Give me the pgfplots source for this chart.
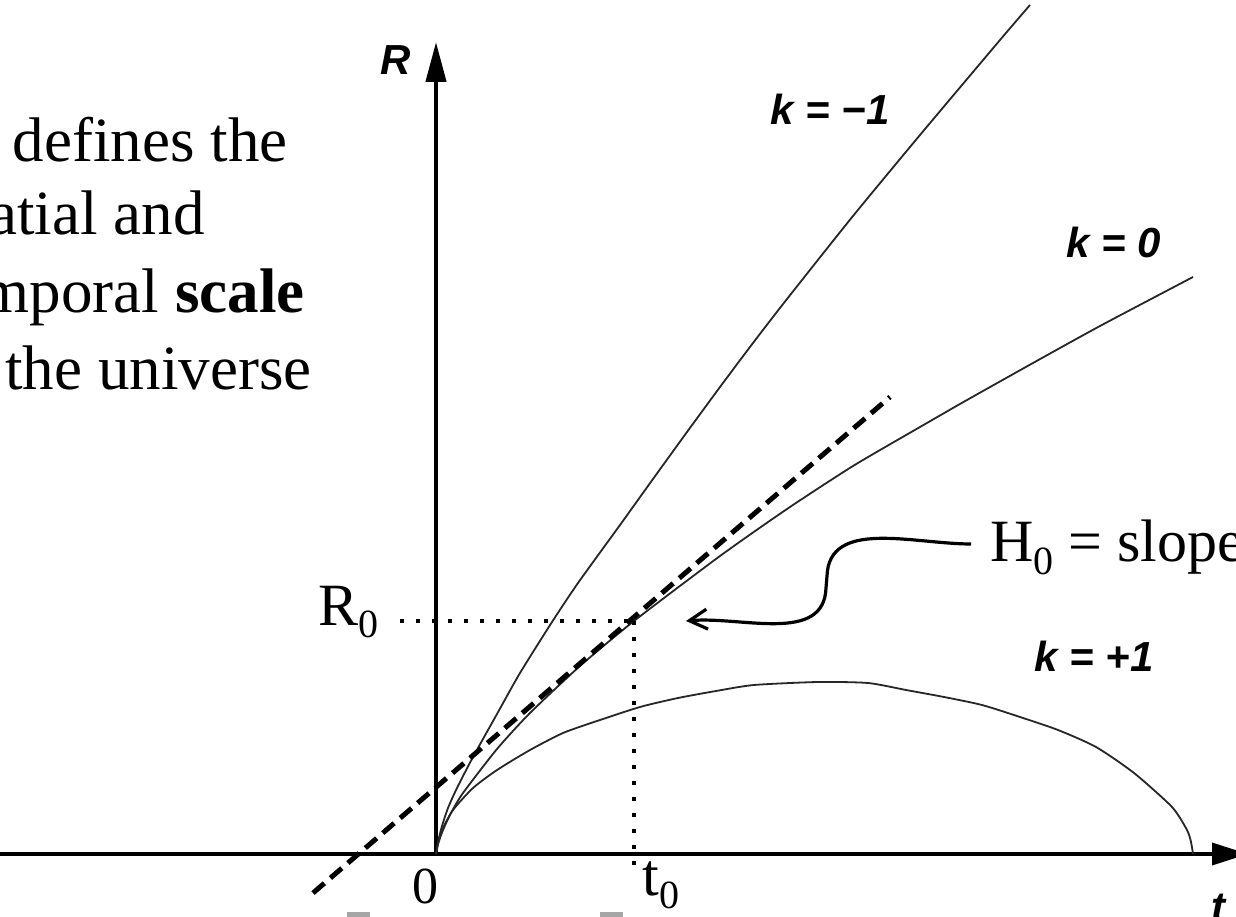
\documentclass[border=0pt]{standalone}
\usepackage{fontspec}
\setmainfont{Liberation Serif}
\setsansfont{Liberation Sans}
\usepackage{pgfplots}
\pgfplotsset{compat=1.18}
\usetikzlibrary{arrows.meta}

\newcommand{\sub}[1]{\raisebox{-6.5pt}{\fontsize{20}{20}\selectfont #1}}
\newcommand{\klab}{\sffamily\bfseries\itshape\fontsize{21}{21}\selectfont}

\begin{document}
\begin{tikzpicture}
\begin{axis}[
  scale only axis, width=618pt, height=458pt,
  xmin=-436, xmax=800, ymin=-62, ymax=854,
  axis lines=none, clip=false]

\coordinate (SW) at (axis cs:-436,-62);
\coordinate (NE) at (axis cs:800,854);

% axes
\draw[line width=2.4pt] (axis cs:-436,0) -- (axis cs:373,0);
\draw[line width=1.8pt, -{Triangle[length=18pt,width=11pt]}] (axis cs:370,0) -- (axis cs:812,0);
\draw[line width=2.2pt, -{Triangle[length=20pt,width=10pt]}] (axis cs:0,0) -- (axis cs:0,812);

% k = -1
\addplot[black!85, line width=0.9pt, smooth, tension=0.4] coordinates {
(0,0) (2,12) (6,28) (12,46) (21,66) (37,97) (61,140) (84,181) (116,232)
(142,271) (184,329) (217,375) (251,422) (284,467) (317,511) (351,555)
(417,638) (484,719) (564,814) (594,849)};

% k = 0
\addplot[black!85, line width=0.9pt, smooth, tension=0.4] coordinates {
(0,0) (2,10) (7,24) (15,41) (27,61) (61,105) (94,141) (144,188) (198,233)
(284,298) (351,345) (417,388) (484,427) (531,454) (597,491) (664,528)
(757,577)};

% k = +1
\addplot[black!85, line width=0.9pt, smooth, tension=0.4] coordinates {
(0,0) (2,10) (6,24) (17,44) (37,66) (61,84) (94,104) (127,121) (161,133)
(204,147) (242,156) (280,163) (318,169) (382,172) (432,171) (470,164)
(508,157) (546,149) (584,137) (622,124) (660,107) (698,81) (736,47)
(751,24) (755,12) (757,0)};

% tangent line (slope H0)
\addplot[black, line width=2.5pt, dash pattern=on 7.5pt off 4pt] coordinates {
(-123,-39) (454,457)};

% dotted guides to R0 and t0
\addplot[black, line width=2pt, dash pattern=on 2pt off 6pt] coordinates {
(-36,233) (198,233)};
\addplot[black, line width=2pt, dash pattern=on 2pt off 6pt] coordinates {
(198,233) (198,-14)};

% curved arrow from label
\draw[line width=1.6pt, -{Straight Barb[length=9pt,width=10pt]}]
  (axis cs:535,310) to[out=180,in=88] (axis cs:391,278) -- (axis cs:390,266)
  to[out=-92,in=5] (axis cs:250,233);

% labels
\node[font=\klab] at (axis cs:-40,794) {R};
\node[font=\klab] at (axis cs:782,-54) {t};
\node[font=\klab] at (axis cs:394,745) {k = −1};
\node[font=\klab] at (axis cs:678,612) {k = 0};
\node[font=\klab] at (axis cs:658,198) {k = +1};

\node[anchor=base west, inner sep=0pt, font=\fontsize{30}{30}\selectfont] at (axis cs:-118,229) {R\sub{0}};
\node[anchor=base west, inner sep=0pt, font=\fontsize{30}{30}\selectfont] at (axis cs:206,-41) {t\sub{0}};
\node[anchor=base, inner sep=0pt, font=\fontsize{26}{26}\selectfont] at (axis cs:-11,-49) {0};
\node[anchor=base west, inner sep=0pt, font=\fontsize{30}{30}\selectfont] at (axis cs:554,292) {H\sub{0} = slope};

\node[anchor=base east, inner sep=0pt, font=\fontsize{31.5}{31.5}\selectfont] at (axis cs:-148,692) {R defines the};
\node[anchor=base east, inner sep=0pt, font=\fontsize{31.5}{31.5}\selectfont] at (axis cs:-231,619) {spatial and};
\node[anchor=base east, inner sep=0pt, font=\fontsize{31.5}{31.5}\selectfont] at (axis cs:-131,541) {temporal \textbf{scale}};
\node[anchor=base east, inner sep=0pt, font=\fontsize{31.5}{31.5}\selectfont] at (axis cs:-124,464) {of the universe};

% small grey marks at the bottom edge
\fill[gray!70] (axis cs:-89,-58) rectangle (axis cs:-66,-64);
\fill[gray!70] (axis cs:164,-58) rectangle (axis cs:187,-64);
\end{axis}
\pgfresetboundingbox
\useasboundingbox (SW) rectangle (NE);
\end{tikzpicture}
\end{document}
